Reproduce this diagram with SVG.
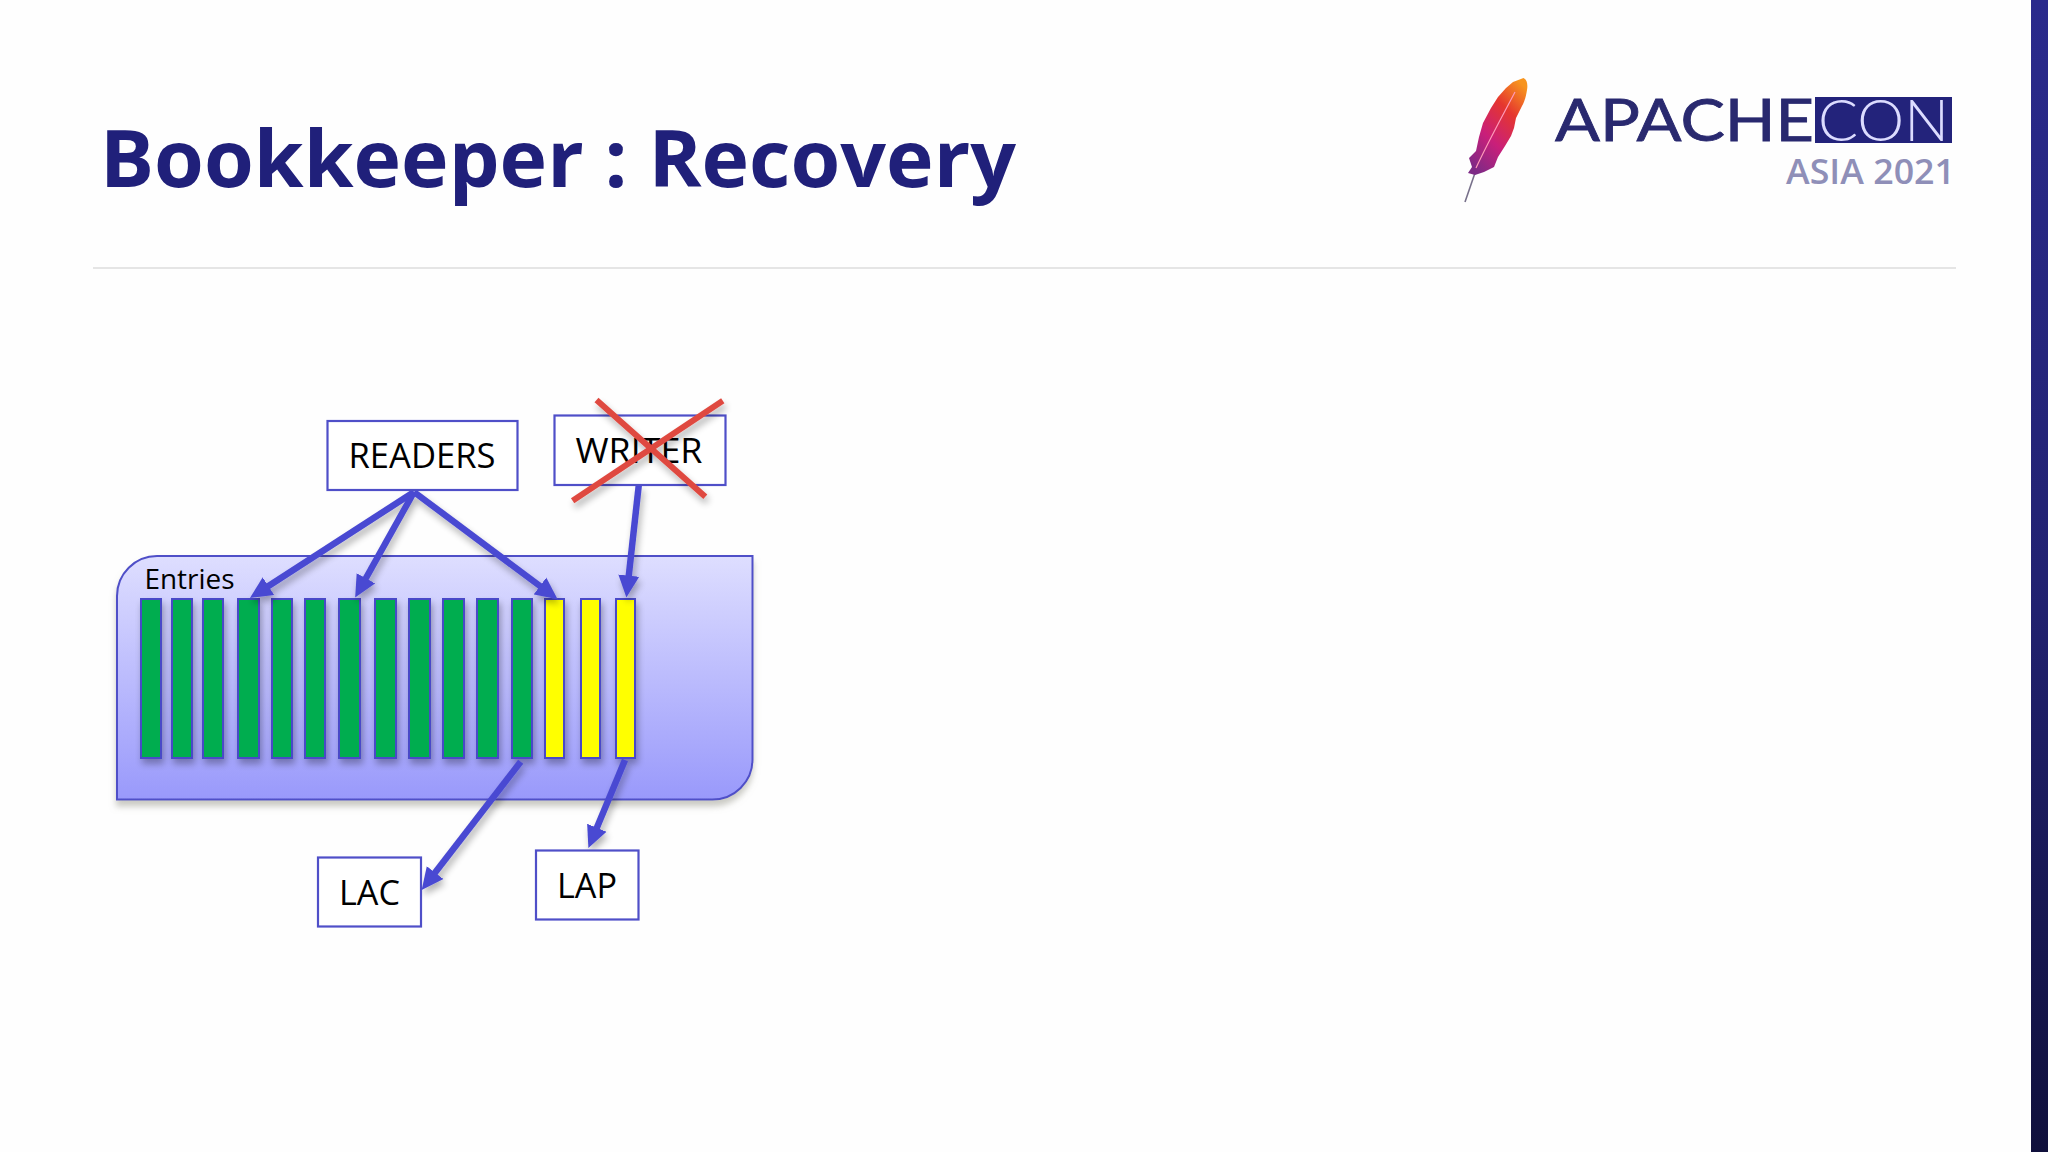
<svg xmlns="http://www.w3.org/2000/svg" width="2048" height="1152" viewBox="0 0 2048 1152">
<defs>
<linearGradient id="panel" x1="0" y1="0" x2="0" y2="1"><stop offset="0" stop-color="#dedeff"/><stop offset="1" stop-color="#9999fb"/></linearGradient>
<linearGradient id="side" x1="0" y1="0" x2="0" y2="1"><stop offset="0" stop-color="#2a2a8c"/><stop offset="0.5" stop-color="#222272"/><stop offset="1" stop-color="#10103c"/></linearGradient>
<linearGradient id="feather" x1="0.8" y1="0" x2="0.2" y2="1"><stop offset="0" stop-color="#f7941e"/><stop offset="0.3" stop-color="#e5362f"/><stop offset="0.65" stop-color="#c91f7a"/><stop offset="1" stop-color="#7d2a86"/></linearGradient>
<filter id="sh" x="-30%" y="-30%" width="160%" height="160%"><feGaussianBlur in="SourceAlpha" stdDeviation="3.5"/><feOffset dx="2" dy="5"/><feComponentTransfer><feFuncA type="linear" slope="0.3"/></feComponentTransfer><feMerge><feMergeNode/><feMergeNode in="SourceGraphic"/></feMerge></filter>
<filter id="shp" x="-10%" y="-10%" width="120%" height="120%"><feGaussianBlur in="SourceAlpha" stdDeviation="3"/><feOffset dx="0" dy="6"/><feColorMatrix values="0 0 0 0 0.35 0 0 0 0 0.35 0 0 0 0 0.3 0 0 0 0.55 0"/><feMerge><feMergeNode/><feMergeNode in="SourceGraphic"/></feMerge></filter>
<marker id="head" markerUnits="userSpaceOnUse" markerWidth="24" markerHeight="22" viewBox="0 0 24 22" refX="10" refY="11" orient="auto"><path d="M0 0.500L22 11L0 21.500Z" fill="#4a4ad2"/></marker>
</defs>
<style>
.t{font-family:"Open Sans","Liberation Sans",sans-serif;fill:#000;text-anchor:middle}
.box{fill:#fff;stroke:#4f4fc8;stroke-width:2.2}
.g{fill:#00ad50;stroke:#4a4ac8;stroke-width:2}
.y{fill:#ffff00;stroke:#4a4ac8;stroke-width:2}
.a{fill:none;stroke:#4a4ad2;stroke-width:6.500;marker-end:url(#head)}
.x{stroke:#df4a40;stroke-width:6}
</style>
<rect width="2048" height="1152" fill="#fefefe"/>
<rect x="2031" y="0" width="17" height="1152" fill="url(#side)"/>
<text x="100" y="187" font-family="Open Sans,Liberation Sans,sans-serif" font-weight="700" font-size="79" fill="#20207a" textLength="916" lengthAdjust="spacingAndGlyphs">Bookkeeper : Recovery</text>
<line x1="93" y1="268" x2="1956" y2="268" stroke="#dcdcdc" stroke-width="1.5"/>
<g id="logo">
<line x1="1476" y1="170" x2="1465" y2="202" stroke="#77708a" stroke-width="1.600"/>
<path d="M1523.500 78C1527 80 1528 84 1527 90C1526 97 1524 103 1522 106L1516 118L1514 128L1511 136L1505 146L1498 157L1494 167L1484 172L1475 175L1468 173L1472 167L1469 158L1476 151L1479 137L1483 123L1491 108L1498 97L1506 88L1513 82Z" fill="url(#feather)"/>
<path d="M1515 92C1503 115 1488 142 1476 168" fill="none" stroke="#ff9ab8" stroke-width="1.200"/>
<text x="1555" y="140.500" font-family="Lato,Liberation Sans,sans-serif" font-size="58" fill="#29296f" stroke="#29296f" stroke-width="0.800" textLength="259" lengthAdjust="spacingAndGlyphs">APACHE</text>
<rect x="1815" y="97" width="137" height="46" fill="#23237b"/>
<text x="1818" y="140.500" font-family="Lato,Liberation Sans,sans-serif" font-weight="300" font-size="58" fill="#dcdcff" textLength="131" lengthAdjust="spacingAndGlyphs">CON</text>
<text x="1786" y="184" font-family="Open Sans,Liberation Sans,sans-serif" font-weight="600" font-size="34" fill="#8f8fb8" textLength="169" lengthAdjust="spacingAndGlyphs">ASIA 2021</text>
</g>
<g id="entries">
<path d="M117 799.500V596A40 40 0 0 1 157 556H752.500V760A40 40 0 0 1 712.500 799.500Z" fill="url(#panel)" stroke="#4f4fc8" stroke-width="2" filter="url(#shp)"/>
<text class="t" x="189.500" y="589" font-size="28" textLength="90" lengthAdjust="spacingAndGlyphs" fill="#222">Entries</text>
</g>
<g id="bars" filter="url(#sh)">
<rect class="g" x="141" y="599" width="20" height="159"/>
<rect class="g" x="172" y="599" width="20" height="159"/>
<rect class="g" x="203" y="599" width="20" height="159"/>
<rect class="g" x="238" y="599" width="21" height="159"/>
<rect class="g" x="272" y="599" width="20" height="159"/>
<rect class="g" x="305" y="599" width="20" height="159"/>
<rect class="g" x="339" y="599" width="21" height="159"/>
<rect class="g" x="375" y="599" width="21" height="159"/>
<rect class="g" x="409" y="599" width="21" height="159"/>
<rect class="g" x="443" y="599" width="21" height="159"/>
<rect class="g" x="477" y="599" width="21" height="159"/>
<rect class="g" x="512" y="599" width="20" height="159"/>
<rect class="y" x="545" y="599" width="19" height="159"/>
<rect class="y" x="581" y="599" width="19" height="159"/>
<rect class="y" x="616" y="599" width="19" height="159"/>
</g>
<g id="connectors" filter="url(#sh)">
<line class="a" x1="414" y1="492" x2="260" y2="591.500"/>
<line class="a" x1="414" y1="492" x2="361" y2="587"/>
<line class="a" x1="414" y1="492" x2="548" y2="592"/>
<line class="a" x1="638.800" y1="485" x2="627.700" y2="585.500"/>
<line class="a" x1="520.700" y1="761.700" x2="429" y2="880.500"/>
<line class="a" x1="625" y1="760" x2="593" y2="837"/>
</g>
<g id="readers">
<rect class="box" x="327.500" y="421" width="190" height="69"/>
<text class="t" x="422" y="467.500" font-size="35" textLength="147" lengthAdjust="spacingAndGlyphs">READERS</text>
</g>
<g id="writer">
<rect class="box" x="554.500" y="415.500" width="171" height="69.500"/>
<text class="t" x="639" y="462.500" font-size="35" textLength="127" lengthAdjust="spacingAndGlyphs">WRITER</text>
<g filter="url(#sh)">
<line class="x" x1="596.500" y1="400" x2="705.300" y2="496.700"/>
<line class="x" x1="722.800" y1="400.700" x2="572.600" y2="500.700"/>
</g>
</g>
<g id="lac">
<rect class="box" x="318" y="857.500" width="103" height="69"/>
<text class="t" x="369.500" y="905" font-size="35" textLength="61" lengthAdjust="spacingAndGlyphs">LAC</text>
</g>
<g id="lap">
<rect class="box" x="536" y="850.500" width="102.500" height="69"/>
<text class="t" x="587" y="897.500" font-size="35" textLength="60" lengthAdjust="spacingAndGlyphs">LAP</text>
</g>
</svg>
